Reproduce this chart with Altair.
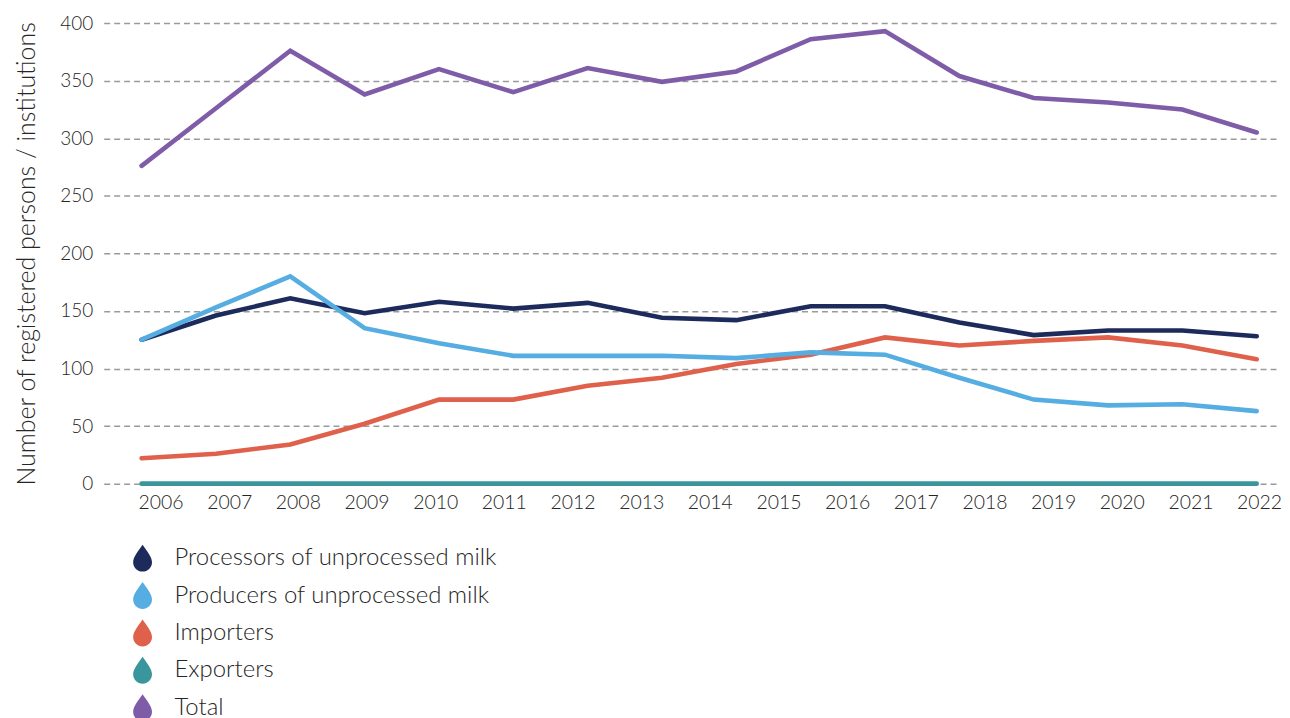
import altair as alt
import pandas as pd

# ---- data ----
year_labels = list(range(2006, 2023))          # 17 axis labels
points = list(range(16))                        # 16 plotted periods per series

series_names = [
    "Processors of unprocessed milk",
    "Producers of unprocessed milk",
    "Importers",
    "Exporters",
    "Total",
]
series_colors = ["#1c2a5c", "#55ade1", "#e0614b", "#3a969c", "#7f5ca8"]

processors = [125, 146, 161, 148, 158, 152, 157, 144, 142, 154, 154, 140, 129, 133, 133, 128]
producers = [125, 153, 180, 135, 122, 111, 111, 111, 109, 114, 112, 92, 73, 68, 69, 63]
importers = [22, 26, 34, 52, 73, 73, 85, 92, 104, 112, 127, 120, 124, 127, 120, 108]
exporters = [0] * 16
total = [276, 326, 376, 338, 360, 340, 361, 349, 358, 386, 393, 354, 335, 331, 325, 305]

# drawing order (last on top)
draw_order = [
    ("Exporters", exporters),
    ("Total", total),
    ("Importers", importers),
    ("Processors of unprocessed milk", processors),
    ("Producers of unprocessed milk", producers),
]
rows = []
for name, vals in draw_order:
    for i, v in zip(points, vals):
        rows.append({"idx": i, "value": v, "series": name})
df = pd.DataFrame(rows)
years_df = pd.DataFrame({"year": year_labels})
legend_df = pd.DataFrame({"series": series_names})

FONT = "Lato"
TXT = "#262626"
droplet = "M0,-1 C0.3,-0.55 0.7,-0.1 0.7,0.3 A0.7,0.7 0 0 1 -0.7,0.3 C-0.7,-0.1 -0.3,-0.55 0,-1 Z"
color_scale = alt.Scale(domain=series_names, range=series_colors)

lines = alt.Chart(df).mark_line(strokeWidth=4.6, strokeCap="round").encode(
    x=alt.X("idx:Q", scale=alt.Scale(domain=[-0.51, 15.30], nice=False, zero=False), axis=None),
    y=alt.Y(
        "value:Q",
        scale=alt.Scale(domain=[0, 400], nice=False),
        axis=alt.Axis(
            values=list(range(0, 401, 50)),
            title="Number of registered persons / institutions",
            titleFont=FONT, titleFontSize=25, titleFontWeight=300, titleColor=TXT,
            titlePadding=20,
            labelFont=FONT, labelFontSize=19, labelFontWeight=300, labelColor=TXT,
            labelPadding=11, ticks=False, tickSize=0, domain=False,
            grid=True, gridDash=[6, 4], gridColor="#9a9a9a", gridWidth=1.5,
        ),
    ),
    color=alt.Color("series:N", scale=color_scale, legend=None),
)

xaxis = alt.Chart(years_df).mark_point(opacity=0).encode(
    x=alt.X(
        "year:Q",
        scale=alt.Scale(domain=[2005.172, 2022.290], nice=False, zero=False),
        axis=alt.Axis(
            values=year_labels, format="d", orient="bottom", title=None,
            labelFont=FONT, labelFontSize=19.5, labelFontWeight=300, labelColor=TXT,
            labelPadding=10, ticks=False, tickSize=0, domain=False, grid=False,
        ),
    ),
    y=alt.value(0),
)

main = (
    alt.layer(xaxis, lines)
    .resolve_scale(x="independent")
    .resolve_axis(x="independent")
    .properties(width=1179, height=462)
)

# legend panel drawn with droplet symbols
legend_base = alt.Chart(legend_df).encode(
    y=alt.Y("series:N", scale=alt.Scale(domain=series_names), axis=None, sort=series_names)
)
legend_symbols = legend_base.mark_point(
    filled=True, opacity=1, shape=droplet, size=729, strokeWidth=0
).encode(
    x=alt.value(39),
    color=alt.Color("series:N", scale=color_scale, legend=None),
)
legend_labels = legend_base.mark_text(
    align="left", baseline="middle", font=FONT, fontSize=24, fontWeight=300, color=TXT
).encode(x=alt.value(71), text="series:N")
legend_panel = alt.layer(legend_symbols, legend_labels).properties(width=1179, height=187.5)

chart = (
    alt.vconcat(main, legend_panel, spacing=27)
    .properties(padding={"left": 6, "top": 5, "right": 0, "bottom": 0})
    .configure_view(stroke=None)
)

chart.save("out.html", embed_options={"renderer": "svg", "actions": False})
